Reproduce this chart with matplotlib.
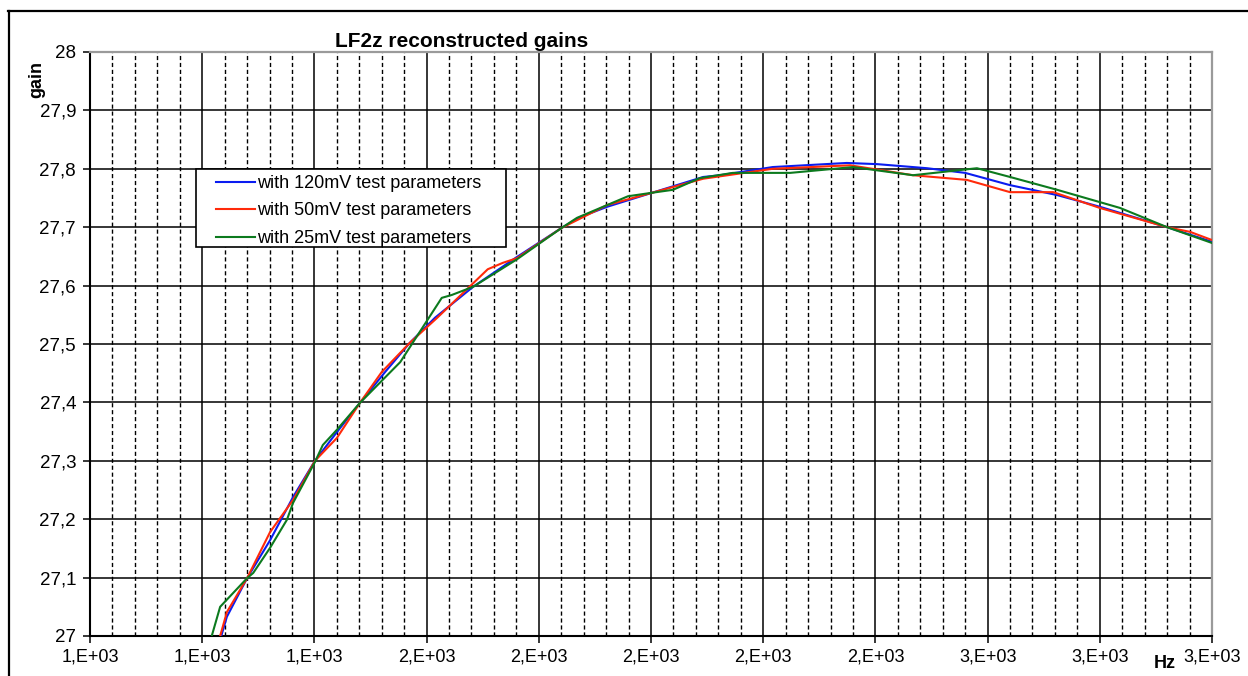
import matplotlib
matplotlib.use("Agg")
import matplotlib.pyplot as plt
from matplotlib.ticker import MultipleLocator, FuncFormatter
from matplotlib.patches import Rectangle
from matplotlib.lines import Line2D

plt.rcParams['font.family'] = ['Liberation Sans', 'DejaVu Sans']

# Reconstructed gain of LF2z versus frequency (Hz) for three test levels
freq_120 = [1234, 1244, 1280, 1321, 1362, 1401, 1440, 1481, 1526, 1570, 1615, 1683,
            1761, 1841, 1873, 1922, 2002, 2093, 2123, 2217, 2349, 2403, 2492, 2560,
            2640, 2724, 2800, 2920, 3000]
gain_120 = [27.000, 27.033, 27.099, 27.164, 27.238, 27.300, 27.349, 27.399, 27.452,
            27.502, 27.545, 27.598, 27.649, 27.699, 27.717, 27.735, 27.759, 27.786,
            27.789, 27.803, 27.810, 27.808, 27.801, 27.793, 27.772, 27.755, 27.735,
            27.700, 27.675]

freq_50 = [1232, 1244, 1280, 1321, 1362, 1401, 1440, 1481, 1520, 1570, 1619, 1709,
           1736, 1761, 1841, 1922, 2002, 2093, 2217, 2355, 2467, 2563, 2640, 2717,
           2800, 2920, 2961, 3000]
gain_50 = [27.000, 27.041, 27.099, 27.178, 27.233, 27.300, 27.339, 27.399, 27.452,
           27.502, 27.545, 27.628, 27.639, 27.647, 27.699, 27.738, 27.759, 27.783,
           27.800, 27.806, 27.789, 27.781, 27.760, 27.760, 27.733, 27.700, 27.692,
           27.678]

freq_25 = [1217, 1232, 1280, 1291, 1321, 1351, 1362, 1401, 1415, 1440, 1481, 1553,
           1627, 1645, 1683, 1761, 1841, 1868, 1922, 1959, 2002, 2039, 2087, 2146,
           2248, 2360, 2467, 2581, 2640, 2724, 2836, 2920, 3000]
gain_25 = [27.000, 27.050, 27.099, 27.108, 27.151, 27.199, 27.228, 27.298, 27.327,
           27.353, 27.399, 27.469, 27.579, 27.584, 27.598, 27.645, 27.699, 27.716,
           27.738, 27.753, 27.759, 27.764, 27.784, 27.793, 27.793, 27.803, 27.789,
           27.801, 27.786, 27.764, 27.733, 27.700, 27.673]

series_labels = ["with 120mV test parameters",
                 "with 50mV test parameters",
                 "with 25mV test parameters"]
series_colors = ["#0a1cf0", "#ff2a0a", "#0c7a1e"]

title_text = "LF2z reconstructed gains"
x_name = "Hz"
y_name = "gain"

x_min, x_max, x_major, x_minor = 1000, 3000, 200, 40
y_min, y_max, y_major = 27.0, 28.0, 0.1

W, H = 1248, 676
FS = 13

fig = plt.figure(figsize=(W / 100, H / 100), dpi=100)
fig.patch.set_facecolor("white")
ax = fig.add_axes([90 / W, 40 / H, 1122 / W, 584 / H])

for fx, gy, lab, col in zip([freq_120, freq_50, freq_25],
                            [gain_120, gain_50, gain_25],
                            series_labels, series_colors):
    ax.plot(fx, gy, color=col, lw=1.5, label=lab, zorder=3, clip_on=True)

ax.set_xlim(x_min, x_max)
ax.set_ylim(y_min, y_max)
ax.xaxis.set_major_locator(MultipleLocator(x_major))
ax.xaxis.set_minor_locator(MultipleLocator(x_minor))
ax.yaxis.set_major_locator(MultipleLocator(y_major))


def sci_comma(v, pos):
    return f"{v:.0E}".replace("E", ",E")


def dec_comma(v, pos):
    return f"{v:g}".replace(".", ",")


ax.xaxis.set_major_formatter(FuncFormatter(sci_comma))
ax.yaxis.set_major_formatter(FuncFormatter(dec_comma))

ax.set_axisbelow(True)
ax.grid(which="major", axis="both", color="black", lw=1.1, ls="-")
ax.grid(which="minor", axis="x", color="black", lw=1.0, ls=(0, (3.0, 2.0)))

ax.tick_params(axis="both", which="major", direction="out", length=5, width=1.1,
               color="black", labelsize=FS, pad=4)
ax.tick_params(axis="x", which="minor", length=0)
ax.tick_params(axis="y", which="major", pad=5, labelsize=13.5)

for side in ("left", "bottom"):
    ax.spines[side].set_color("black")
    ax.spines[side].set_linewidth(1.5)
for side in ("top", "right"):
    ax.spines[side].set_color("#9a9a9a")
    ax.spines[side].set_linewidth(1.6)

# Legend box with its own white frame
bx0, by0 = (196 - 90) / 1122, (636 - 247) / 584
ax.add_patch(Rectangle((bx0, by0), 310 / 1122, 78 / 584, transform=ax.transAxes,
                       facecolor="white", edgecolor="black", lw=1.2, zorder=4.5))
leg = ax.legend(loc="upper left", bbox_to_anchor=((216 - 90) / 1122, (636 - 175) / 584),
                frameon=False, fontsize=FS, borderpad=0, borderaxespad=0,
                handlelength=2.15, handletextpad=0.15, labelspacing=0.58)
leg.set_zorder(5)

fig.text(335 / W, 1 - 47 / H, title_text, fontsize=15, fontweight="bold",
         ha="left", va="baseline")
fig.text(37 / W, 1 - 80 / H, y_name, fontsize=FS, fontweight="bold",
         rotation=90, ha="center", va="center")
fig.text(1165 / W, 1 - 663 / H, x_name, fontsize=FS, fontweight="bold",
         ha="center", va="center")

# Outer chart frame
fig.add_artist(Line2D([8 / W, 1.0], [1 - 10.5 / H, 1 - 10.5 / H],
                      transform=fig.transFigure, color="black", lw=1.6))
fig.add_artist(Line2D([8.5 / W, 8.5 / W], [0.0, 1 - 10.5 / H],
                      transform=fig.transFigure, color="black", lw=1.6))

fig.savefig("out.png", dpi=100, facecolor="white")
